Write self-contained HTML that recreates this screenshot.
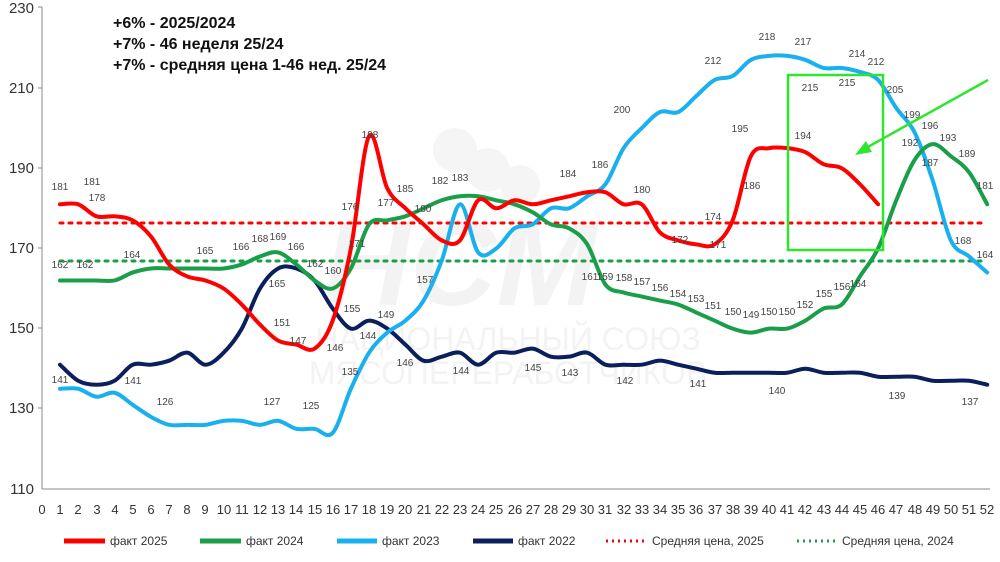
<!DOCTYPE html>
<html><head><meta charset="utf-8"><style>
body{margin:0;background:#fff;}
svg{display:block;font-family:"Liberation Sans",sans-serif;}
.t{font-size:15px;fill:#333;}
.x{font-size:13px;fill:#333;text-anchor:middle;}
.d{font-size:10px;fill:#444;text-anchor:middle;}
.l{font-size:12px;fill:#333;}
.h{font-size:16px;font-weight:bold;fill:#111;}
</style></head><body>
<svg id="c" width="1000" height="562" viewBox="0 0 1000 562">
<g opacity="0.13" fill="#bbb">
<circle cx="455" cy="150" r="22"/><circle cx="488" cy="170" r="22"/><circle cx="520" cy="185" r="20"/>
<text x="460" y="305" font-size="120" font-weight="bold" font-style="italic" fill="#aaa" text-anchor="middle">НСМ</text>
<text x="508" y="350" font-size="32" fill="#aaa" text-anchor="middle">НАЦИОНАЛЬНЫЙ СОЮЗ</text>
<text x="508" y="384" font-size="32" fill="#aaa" text-anchor="middle">МЯСОПЕРЕРАБОТЧИКОВ</text>
</g>
<line x1="42" y1="7" x2="42" y2="489" stroke="#888"/>
<line x1="42" y1="489" x2="990" y2="489" stroke="#888"/>
<g class="t" text-anchor="end">
<text x="34" y="13">230</text><text x="34" y="93">210</text><text x="34" y="173">190</text><text x="34" y="253">170</text><text x="34" y="333">150</text><text x="34" y="413">130</text><text x="34" y="494">110</text>
</g>
<g stroke="#888"><line x1="38" y1="7" x2="42" y2="7"/><line x1="38" y1="88" x2="42" y2="88"/><line x1="38" y1="168" x2="42" y2="168"/><line x1="38" y1="248" x2="42" y2="248"/><line x1="38" y1="328" x2="42" y2="328"/><line x1="38" y1="408" x2="42" y2="408"/></g>
<g class="x">
<text x="42" y="514">0</text><text x="60" y="514">1</text><text x="78" y="514">2</text><text x="97" y="514">3</text><text x="115" y="514">4</text><text x="133" y="514">5</text><text x="151" y="514">6</text><text x="169" y="514">7</text><text x="187" y="514">8</text><text x="205" y="514">9</text><text x="224" y="514">10</text><text x="242" y="514">11</text><text x="260" y="514">12</text><text x="278" y="514">13</text><text x="296" y="514">14</text><text x="315" y="514">15</text><text x="333" y="514">16</text><text x="351" y="514">17</text><text x="369" y="514">18</text><text x="387" y="514">19</text><text x="405" y="514">20</text><text x="424" y="514">21</text><text x="442" y="514">22</text><text x="460" y="514">23</text><text x="478" y="514">24</text><text x="496" y="514">25</text><text x="515" y="514">26</text><text x="533" y="514">27</text><text x="551" y="514">28</text><text x="569" y="514">29</text><text x="587" y="514">30</text><text x="605" y="514">31</text><text x="624" y="514">32</text><text x="642" y="514">33</text><text x="660" y="514">34</text><text x="678" y="514">35</text><text x="696" y="514">36</text><text x="715" y="514">37</text><text x="733" y="514">38</text><text x="751" y="514">39</text><text x="769" y="514">40</text><text x="787" y="514">41</text><text x="805" y="514">42</text><text x="824" y="514">43</text><text x="842" y="514">44</text><text x="860" y="514">45</text><text x="878" y="514">46</text><text x="896" y="514">47</text><text x="915" y="514">48</text><text x="933" y="514">49</text><text x="951" y="514">50</text><text x="969" y="514">51</text><text x="987" y="514">52</text>
</g>
<line x1="60" y1="223" x2="987" y2="223" stroke="#f00" stroke-width="3" stroke-dasharray="3,6" stroke-linecap="round"/>
<line x1="60" y1="261" x2="987" y2="261" stroke="#1a9e4a" stroke-width="3" stroke-dasharray="3,6" stroke-linecap="round"/>
<g id="lines" fill="none" stroke-width="4" stroke-linejoin="round" stroke-linecap="round"></g>
<g class="d">
<text x="60" y="190">181</text><text x="92" y="185">181</text><text x="97" y="201">178</text><text x="370" y="138">198</text><text x="740" y="132">195</text><text x="803" y="139">194</text><text x="622" y="113">200</text><text x="713" y="64">212</text><text x="767" y="40">218</text><text x="803" y="45">217</text><text x="810" y="91">215</text><text x="847" y="86">215</text><text x="857" y="57">214</text><text x="876" y="65">212</text><text x="895" y="93">205</text><text x="912" y="118">199</text><text x="930" y="129">196</text><text x="948" y="141">193</text><text x="967" y="157">189</text><text x="985" y="189">181</text><text x="910" y="146">192</text><text x="930" y="166">187</text><text x="752" y="189">186</text><text x="600" y="168">186</text><text x="568" y="177">184</text><text x="642" y="193">180</text><text x="680" y="243">172</text><text x="718" y="248">171</text><text x="713" y="220">174</text>
<text x="60" y="268">162</text><text x="85" y="268">162</text><text x="132" y="258">164</text><text x="205" y="254">165</text><text x="241" y="250">166</text><text x="260" y="242">168</text><text x="278" y="240">169</text><text x="296" y="250">166</text><text x="315" y="267">162</text><text x="333" y="274">160</text><text x="357" y="247">171</text><text x="350" y="210">176</text><text x="386" y="206">177</text><text x="405" y="192">185</text><text x="423" y="212">180</text><text x="440" y="184">182</text><text x="460" y="181">183</text><text x="590" y="280">161</text><text x="605" y="280">159</text><text x="624" y="281">158</text><text x="642" y="285">157</text><text x="660" y="291">156</text><text x="678" y="297">154</text><text x="696" y="302">153</text><text x="713" y="309">151</text><text x="733" y="315">150</text><text x="751" y="318">149</text><text x="769" y="315">150</text><text x="787" y="315">150</text><text x="805" y="308">152</text><text x="824" y="297">155</text><text x="842" y="290">156</text><text x="858" y="287">164</text><text x="963" y="244">168</text><text x="985" y="258">164</text>
<text x="60" y="383">141</text><text x="133" y="384">141</text><text x="165" y="405">126</text><text x="272" y="405">127</text><text x="311" y="409">125</text><text x="350" y="375">135</text><text x="386" y="318">149</text><text x="352" y="312">155</text><text x="368" y="339">144</text><text x="405" y="366">146</text><text x="461" y="374">144</text><text x="533" y="371">145</text><text x="570" y="376">143</text><text x="625" y="384">142</text><text x="698" y="387">141</text><text x="777" y="394">140</text><text x="897" y="399">139</text><text x="970" y="405">137</text><text x="277" y="287">165</text><text x="282" y="326">151</text><text x="298" y="344">147</text><text x="335" y="351">146</text><text x="425" y="283">157</text>
</g>
<rect x="788" y="75" width="95" height="175" fill="none" stroke="#2ee62e" stroke-width="2.5"/>
<line x1="988" y1="80" x2="866" y2="148" stroke="#2ee62e" stroke-width="2.5"/>
<polygon points="855,155 866,141 872,152" fill="#2ee62e"/>
<text class="h" x="113" y="28">+6% - 2025/2024</text>
<text class="h" x="113" y="49">+7%  - 46 неделя 25/24</text>
<text class="h" x="113" y="70">+7% - средняя цена 1-46 нед. 25/24</text>
<g stroke-width="5">
<line x1="64" y1="541" x2="105" y2="541" stroke="#f00"/><line x1="200" y1="541" x2="241" y2="541" stroke="#1a9e4a"/><line x1="337" y1="541" x2="377" y2="541" stroke="#1ab0ee"/><line x1="473" y1="541" x2="513" y2="541" stroke="#0b1f5c"/>
</g>
<line x1="606" y1="541" x2="646" y2="541" stroke="#f00" stroke-width="3" stroke-dasharray="2,4"/>
<line x1="797" y1="541" x2="836" y2="541" stroke="#1a9e4a" stroke-width="3" stroke-dasharray="2,4"/>
<g class="l"><text x="110" y="545">факт 2025</text><text x="246" y="545">факт 2024</text><text x="382" y="545">факт 2023</text><text x="518" y="545">факт 2022</text><text x="652" y="545">Средняя цена, 2025</text><text x="842" y="545">Средняя цена, 2024</text></g>
</svg>
<script>
var S={
"#0b1f5c":[141,137,136,137,141,141,142,144,141,144,150,160,165,165,162,155,150,152,150,146,142,143,144,141,144,144,145,143,143,144,141,141,141,142,141,140,139,139,139,139,139,140,139,139,139,138,138,138,137,137,137,136],
"#1ab0ee":[135,135,133,134,131,128,126,126,126,127,127,126,127,125,125,124,135,144,149,152,157,167,181,169,170,175,176,180,180,183,186,195,200,204,204,208,212,213,217,218,218,217,215,215,214,212,205,199,187,172,168,164],
"#1a9e4a":[162,162,162,162,164,165,165,165,165,165,166,168,169,166,162,160,165,176,177,178,180,182,183,183,182,181,179,176,175,171,161,159,158,157,156,154,152,150,149,150,150,152,155,156,163,170,182,192,196,193,189,181],
"#f00":[181,181,178,178,177,173,166,163,162,160,156,151,147,146,145,152,170,198,185,180,176,172,172,182,180,182,181,182,183,184,184,181,181,174,172,171,171,177,193,195,195,194,191,190,186,181]
};
var g=document.getElementById("lines");
function X(w){return 60+(w-1)*18.18}function Y(v){return 489-(v-110)*4.01}
for(var c in S){var d=S[c],p=d.map(function(v,i){return[X(i+1),Y(v)]});
var s="M"+p[0][0]+","+p[0][1];
for(var i=0;i<p.length-1;i++){var a=p[i-1]||p[i],b=p[i],e=p[i+1],f=p[i+2]||e;
s+="C"+(b[0]+(e[0]-a[0])/6)+","+(b[1]+(e[1]-a[1])/6)+" "+(e[0]-(f[0]-b[0])/6)+","+(e[1]-(f[1]-b[1])/6)+" "+e[0]+","+e[1];}
var el=document.createElementNS("http://www.w3.org/2000/svg","path");el.setAttribute("d",s);el.setAttribute("stroke",c);g.appendChild(el);}
</script>
</body></html>
